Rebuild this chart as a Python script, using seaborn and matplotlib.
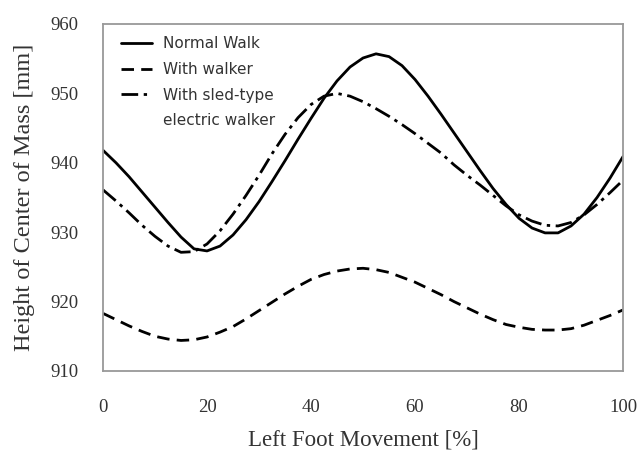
import matplotlib
matplotlib.use("Agg")
import matplotlib.pyplot as plt
import seaborn as sns
import pandas as pd
from matplotlib.lines import Line2D

x_pct = [0, 2.5, 5, 7.5, 10, 12.5, 15, 17.5, 20, 22.5, 25, 27.5, 30, 32.5, 35, 37.5,
         40, 42.5, 45, 47.5, 50, 52.5, 55, 57.5, 60, 62.5, 65, 67.5, 70, 72.5, 75,
         77.5, 80, 82.5, 85, 87.5, 90, 92.5, 95, 97.5, 100]

normal_walk = [941.8, 940.0, 938.0, 935.8, 933.6, 931.4, 929.3, 927.6, 927.3, 928.0,
               929.6, 931.8, 934.4, 937.3, 940.3, 943.4, 946.4, 949.3, 951.8, 953.8,
               955.1, 955.7, 955.3, 954.0, 952.0, 949.6, 947.0, 944.3, 941.6, 938.9,
               936.3, 934.0, 932.0, 930.6, 929.9, 929.9, 930.9, 932.6, 935.0, 937.8,
               940.9]

with_walker = [918.3, 917.4, 916.5, 915.7, 915.0, 914.6, 914.4, 914.5, 914.9, 915.6,
               916.4, 917.5, 918.7, 919.9, 921.1, 922.2, 923.2, 923.9, 924.4, 924.7,
               924.8, 924.6, 924.2, 923.5, 922.8, 921.9, 921.0, 920.0, 919.1, 918.2,
               917.4, 916.7, 916.3, 916.0, 915.9, 915.9, 916.1, 916.6, 917.3, 918.0,
               918.8]

sled_walker = [936.1, 934.5, 932.8, 931.0, 929.4, 928.0, 927.1, 927.2, 928.3, 930.2,
               932.6, 935.3, 938.2, 941.3, 944.1, 946.5, 948.4, 949.6, 950.0, 949.6,
               948.8, 947.8, 946.7, 945.5, 944.2, 942.8, 941.4, 939.7, 938.2, 936.8,
               935.3, 933.8, 932.5, 931.6, 931.0, 930.9, 931.4, 932.5, 934.0, 935.7,
               937.5]

x_ticks = [0, 20, 40, 60, 80, 100]
y_ticks = [910, 920, 930, 940, 950, 960]

sns.set_theme(style="white")
plt.rcParams['font.family'] = ['Liberation Serif', 'DejaVu Serif']

df = pd.DataFrame({"x": x_pct, "normal": normal_walk,
                   "walker": with_walker, "sled": sled_walker})

fig = plt.figure(figsize=(6.41, 4.57), dpi=100)
ax = fig.add_axes([0.1607, 0.1882, 0.8113, 0.7593])

lw = 2.0
dash_w = (0, (4.5, 2.6))
dash_s = (0, (6.0, 2.0, 1.2, 2.0))
sns.lineplot(data=df, x="x", y="normal", ax=ax, color="black", linewidth=lw,
             linestyle="-")
sns.lineplot(data=df, x="x", y="walker", ax=ax, color="black", linewidth=lw,
             linestyle=dash_w)
sns.lineplot(data=df, x="x", y="sled", ax=ax, color="black", linewidth=lw,
             linestyle=dash_s)

ax.set_xlim(0, 100)
ax.set_ylim(910, 960)
ax.set_xticks(x_ticks)
ax.set_yticks(y_ticks)
ax.tick_params(axis="both", direction="in", length=5, width=1, color="#888888",
               labelsize=13.5, labelcolor="#333333")
ax.tick_params(axis="x", pad=20)
ax.tick_params(axis="y", pad=18)
for s in ax.spines.values():
    s.set_color("#999999")
    s.set_linewidth(1.3)

ax.set_xlabel("Left Foot Movement [%]", fontsize=16.5, color="#333333", labelpad=10)
ax.set_ylabel("Height of Center of Mass [mm]", fontsize=17.5, color="#333333",
              labelpad=11)

handles = [Line2D([], [], color="black", lw=lw, linestyle="-"),
           Line2D([], [], color="black", lw=lw, linestyle=dash_w),
           Line2D([], [], color="black", lw=lw, linestyle=dash_s),
           Line2D([], [], color="none", lw=0)]
labels = ["Normal Walk", "With walker", "With sled-type", "electric walker"]
leg = ax.legend(handles, labels, loc="upper left", frameon=False,
                prop={"family": "DejaVu Sans", "size": 11},
                handlelength=2.0, handletextpad=0.7, labelspacing=0.7,
                borderaxespad=0.4, bbox_to_anchor=(0.012, 1.0))
for t in leg.get_texts():
    t.set_color("#333333")

fig.savefig("out.png", dpi=100)
